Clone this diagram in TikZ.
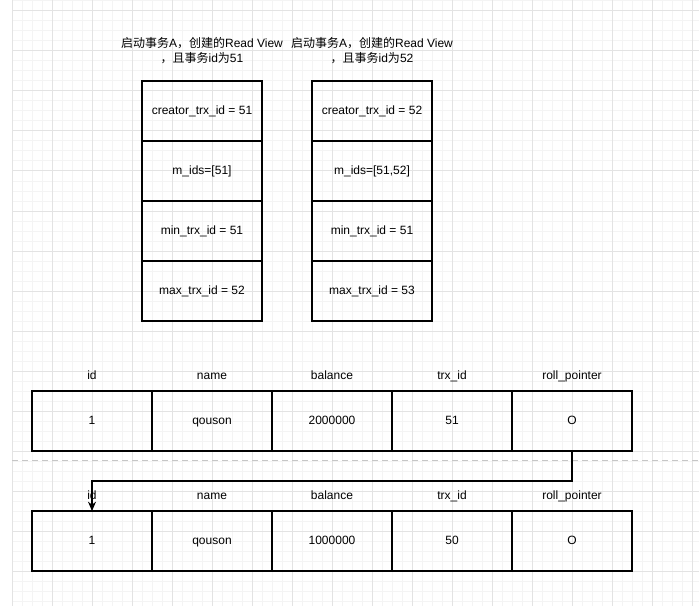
\documentclass[tikz,border=0pt]{standalone}
\usepackage{fontspec}
\setmainfont{Liberation Sans}
\newfontfamily\cjk{Noto Sans CJK SC}
\usetikzlibrary{positioning,arrows.meta,calc}
\definecolor{gridmajor}{HTML}{E3E3E3}
\definecolor{gridminor}{HTML}{F4F4F4}
\definecolor{sepline}{HTML}{C6C6C6}
\tikzset{
  cellbox/.style={draw, line width=0.9pt, minimum width=90pt, minimum height=45pt,
    inner sep=0pt, outer sep=0pt, text height=6.6pt, text depth=1.9pt,
    font=\fontsize{9}{11}\selectfont},
  headtext/.style={inner sep=0pt, text height=6.6pt, text depth=1.9pt,
    font=\fontsize{9}{11}\selectfont},
  titletext/.style={align=center, inner sep=0pt, font=\fontsize{9}{11.25}\selectfont}
}
\begin{document}
\begin{tikzpicture}[x=0.75pt,y=-0.75pt]
    \useasboundingbox (0,0) rectangle (699,606);
    % background grid
    \foreach \gx in {12,22,...,692} \draw[gridminor, line width=0.75pt] (\gx,0) -- (\gx,606);
    \foreach \gy in {1,11,...,601} \draw[gridminor, line width=0.75pt] (12,\gy) -- (699,\gy);
    \foreach \gx in {12,52,...,692} \draw[gridmajor, line width=0.75pt] (\gx,0) -- (\gx,606);
    \foreach \gy in {11,51,...,571} \draw[gridmajor, line width=0.75pt] (12,\gy) -- (699,\gy);
    % read views
    \node[titletext] (rvtitleA) at (202,50.5) {{\cjk 启动事务}A{\cjk ，创建的}Read View\\{\cjk ，且事务}id{\cjk 为}51};
    \node[titletext] (rvtitleB) at (372,50.5) {{\cjk 启动事务}A{\cjk ，创建的}Read View\\{\cjk ，且事务}id{\cjk 为}52};
    \node[cellbox] (creatorA) at (202,111) {creator\_trx\_id = 51};
    \node[cellbox, below=0pt of creatorA] (midsA) {m\_ids=[51]};
    \node[cellbox, below=0pt of midsA] (minA) {min\_trx\_id = 51};
    \node[cellbox, below=0pt of minA] (maxA) {max\_trx\_id = 52};
    \node[cellbox] (creatorB) at (372,111) {creator\_trx\_id = 52};
    \node[cellbox, below=0pt of creatorB] (midsB) {m\_ids=[51,52]};
    \node[cellbox, below=0pt of midsB] (minB) {min\_trx\_id = 51};
    \node[cellbox, below=0pt of minB] (maxB) {max\_trx\_id = 53};
    % row versions
    \foreach \rowy/\tag/\bal/\trx in {421/one/2000000/51, 541/two/1000000/50} {
        \node[cellbox] (id\tag) at (92,\rowy) {1};
        \node[cellbox, right=0pt of id\tag] (name\tag) {qouson};
        \node[cellbox, right=0pt of name\tag] (bal\tag) {\bal};
        \node[cellbox, right=0pt of bal\tag] (trx\tag) {\trx};
        \node[cellbox, right=0pt of trx\tag] (rp\tag) {O};
        \node[headtext] at ($(id\tag)+(0,-45)$) {id};
        \node[headtext] at ($(name\tag)+(0,-45)$) {name};
        \node[headtext] at ($(bal\tag)+(0,-45)$) {balance};
        \node[headtext] at ($(trx\tag)+(0,-45)$) {trx\_id};
        \node[headtext] at ($(rp\tag)+(0,-45)$) {roll\_pointer};
    }
    \draw[sepline, dashed, dash pattern=on 4.5pt off 3pt, line width=0.75pt] (12,460) -- (699,460);
    \coordinate (bend) at (92,481);
    \draw[line width=0.9pt, -{Stealth[length=7pt,width=6pt]}] (rpone.south) |- (bend) -- (idtwo.north);
\end{tikzpicture}
\end{document}
